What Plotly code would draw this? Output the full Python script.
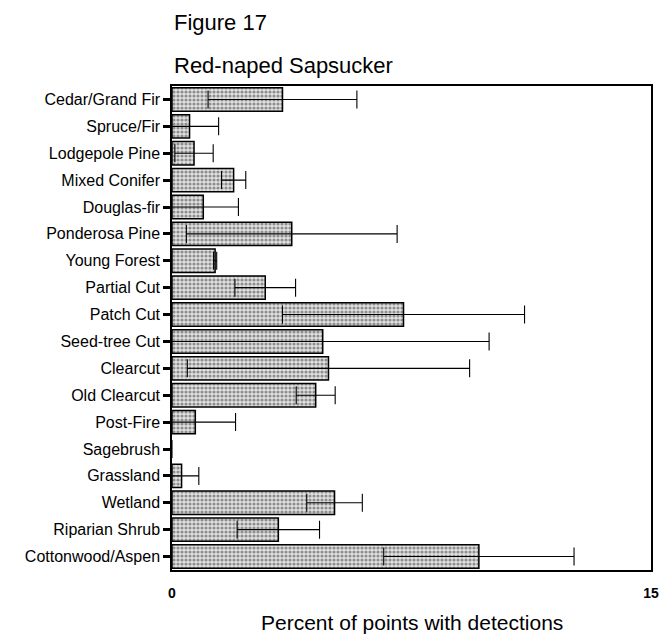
import plotly.graph_objects as go

categories = ["Cedar/Grand Fir", "Spruce/Fir", "Lodgepole Pine", "Mixed Conifer",
              "Douglas-fir", "Ponderosa Pine", "Young Forest", "Partial Cut",
              "Patch Cut", "Seed-tree Cut", "Clearcut", "Old Clearcut", "Post-Fire",
              "Sagebrush", "Grassland", "Wetland", "Riparian Shrub", "Cottonwood/Aspen"]
values = [3.46, 0.55, 0.69, 1.93, 0.98, 3.75, 1.35, 2.92, 7.25, 4.72, 4.90, 4.50,
          0.73, 0.0, 0.30, 5.09, 3.33, 9.61]
errors = [2.33, 0.91, 0.60, 0.38, 1.10, 3.30, 0.05, 0.95, 3.79, 5.21, 4.42, 0.61,
          1.26, 0.0, 0.54, 0.87, 1.29, 2.98]
x_ticks = [0, 15]
x_tick_labels = ["0", "15"]

FONT = "Liberation Sans, Arial, sans-serif"

outline_widths = [1.5 if v > 0 else 0 for v in values]

fig = go.Figure()
fig.add_trace(go.Bar(
    y=categories, x=values, orientation="h",
    marker=dict(
        color="#d6d6d6",
        line=dict(color="black", width=outline_widths),
        pattern=dict(shape=".", fgcolor="#3a3a3a", bgcolor="#e2e2e2", size=4, solidity=0.5),
    ),
    error_x=dict(type="data", array=errors, visible=True, color="black", thickness=1.1, width=9),
    showlegend=False,
))

fig.update_layout(
    width=671, height=642,
    margin=dict(l=172, r=15, t=86, b=72),
    paper_bgcolor="white", plot_bgcolor="white",
    bargap=0.13,
    font=dict(family=FONT, color="black"),
    xaxis=dict(range=[0, 15], tickvals=x_ticks, ticktext=x_tick_labels, ticks="",
               showgrid=False, zeroline=False, showline=True, linecolor="black", linewidth=1.5,
               mirror=True, ticklabelstandoff=9,
               tickfont=dict(family=FONT, size=14, color="black", weight="bold")),
    yaxis=dict(autorange="reversed", showgrid=False, zeroline=False, showline=True,
               linecolor="black", linewidth=1.5, mirror=True, ticks="outside",
               ticklen=7, tickwidth=3, tickcolor="black",
               tickfont=dict(family=FONT, size=16, color="black")),
    annotations=[
        dict(text="Figure 17", xref="paper", yref="paper", x=0, y=(570 - 22) / 484,
             xanchor="left", yanchor="middle", showarrow=False,
             font=dict(family=FONT, size=22, color="black")),
        dict(text="Red-naped Sapsucker", xref="paper", yref="paper", x=0, y=(570 - 66) / 484,
             xanchor="left", yanchor="middle", showarrow=False,
             font=dict(family=FONT, size=22, color="black")),
        dict(text="Percent of points with detections", xref="paper", yref="paper", x=0.5,
             y=(570 - 622) / 484, xanchor="center", yanchor="middle", showarrow=False,
             font=dict(family=FONT, size=21, color="black")),
    ],
)

fig.write_html("out.html")
